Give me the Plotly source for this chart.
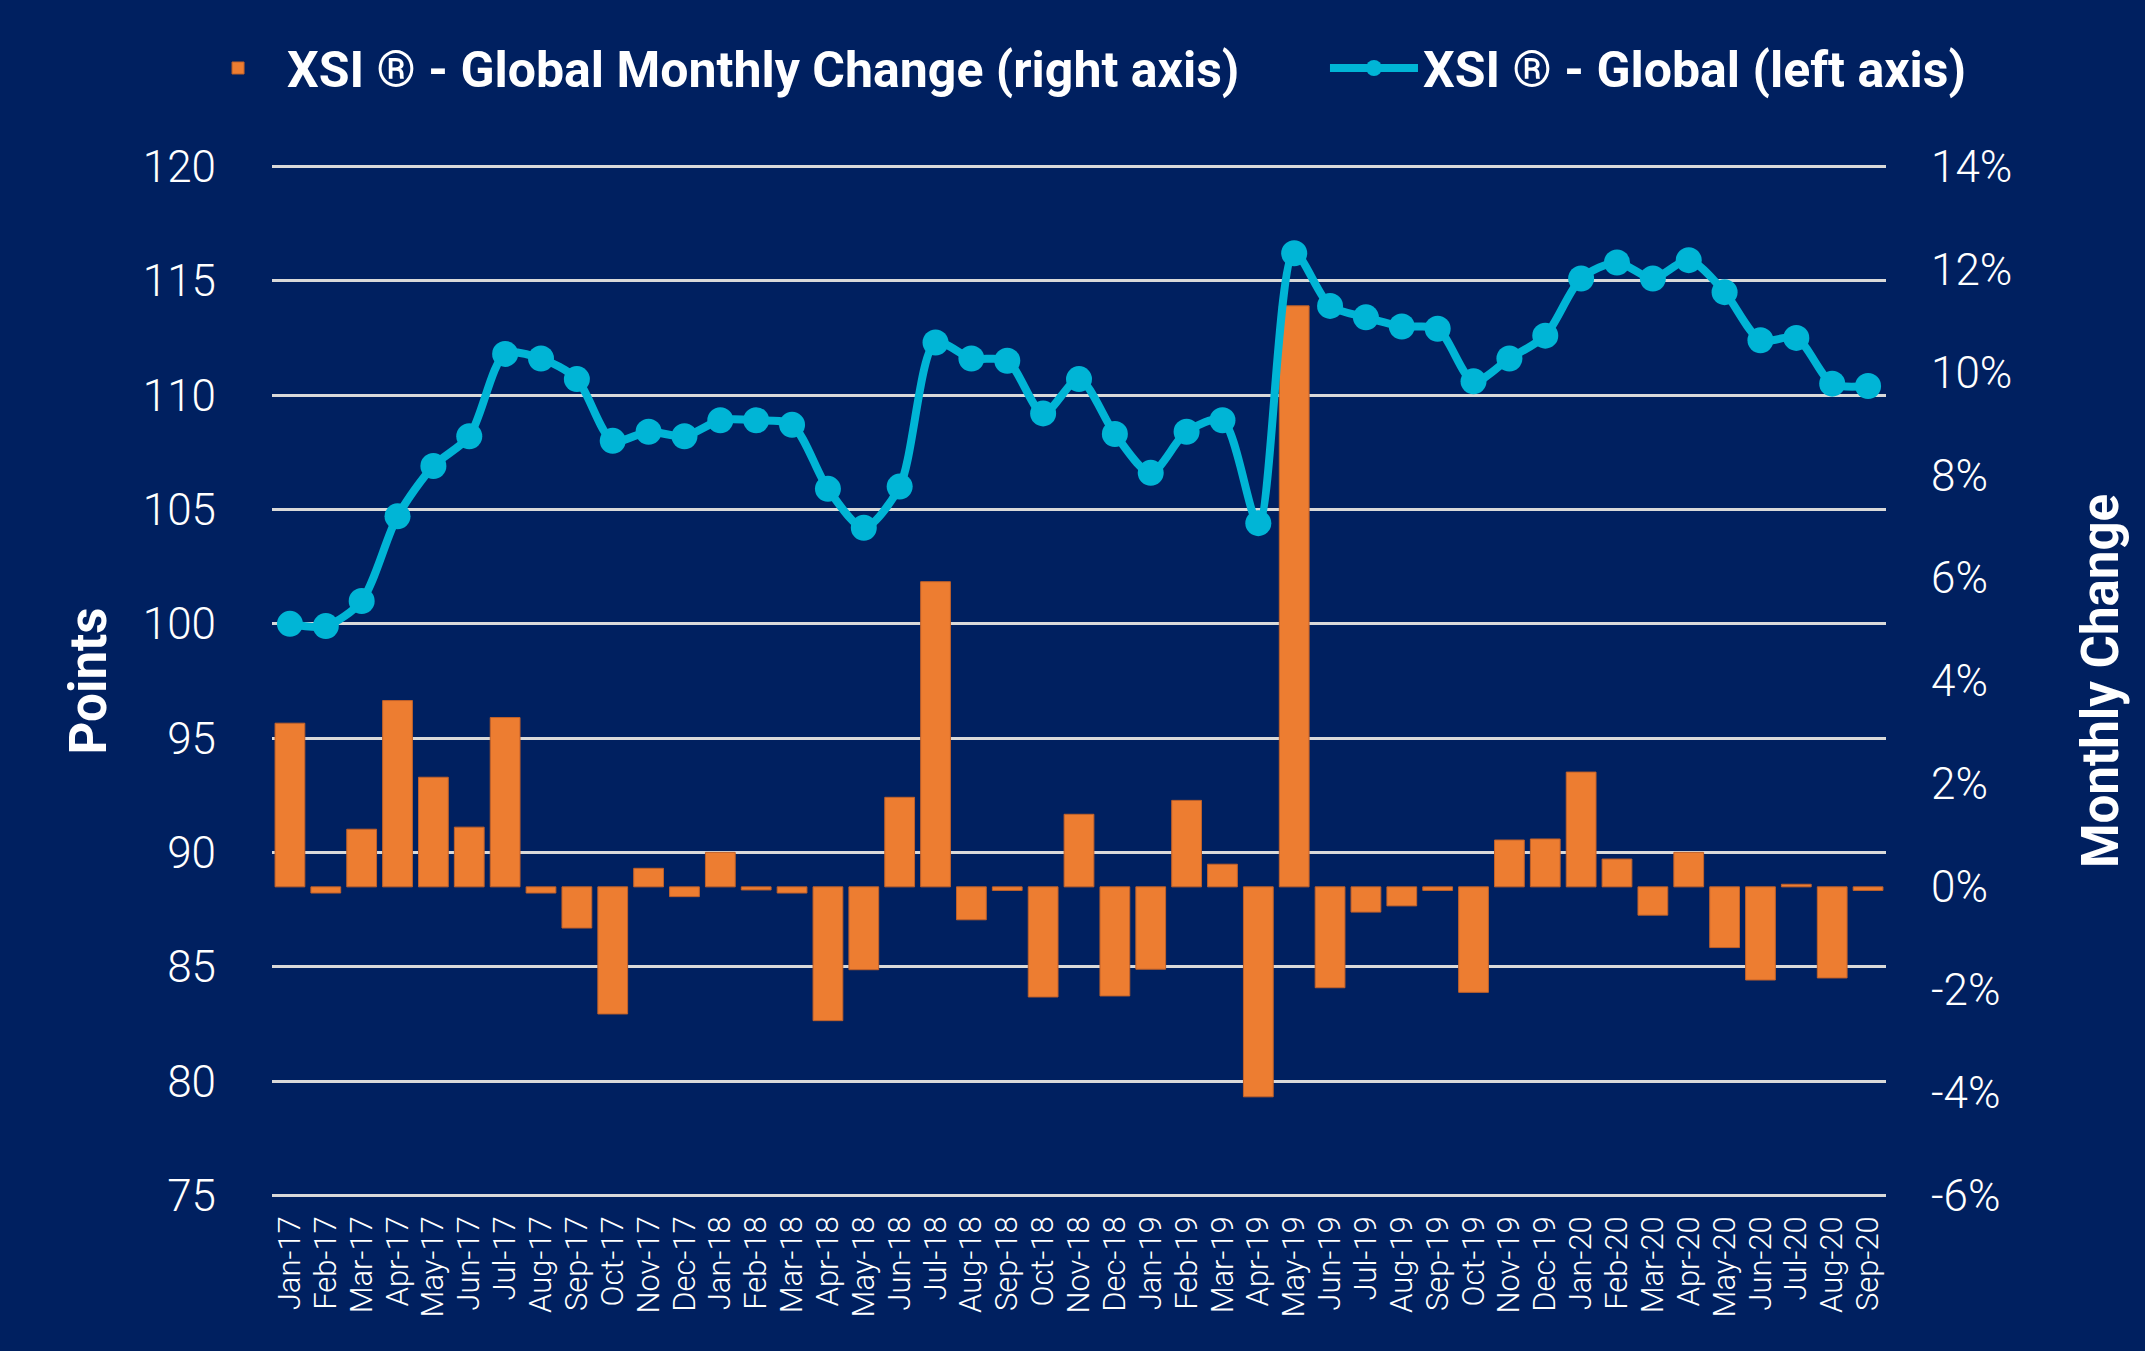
import plotly.graph_objects as go

months = ["Jan-17", "Feb-17", "Mar-17", "Apr-17", "May-17", "Jun-17", "Jul-17", "Aug-17", "Sep-17",
          "Oct-17", "Nov-17", "Dec-17", "Jan-18", "Feb-18", "Mar-18", "Apr-18", "May-18", "Jun-18",
          "Jul-18", "Aug-18", "Sep-18", "Oct-18", "Nov-18", "Dec-18", "Jan-19", "Feb-19", "Mar-19",
          "Apr-19", "May-19", "Jun-19", "Jul-19", "Aug-19", "Sep-19", "Oct-19", "Nov-19", "Dec-19",
          "Jan-20", "Feb-20", "Mar-20", "Apr-20", "May-20", "Jun-20", "Jul-20", "Aug-20", "Sep-20"]

xsi_global = [100.0, 99.9, 101.0, 104.7, 106.9, 108.2, 111.8, 111.6, 110.7,
              108.0, 108.4, 108.2, 108.9, 108.9, 108.7, 105.9, 104.2, 106.0,
              112.3, 111.6, 111.5, 109.2, 110.7, 108.3, 106.6, 108.4, 108.9,
              104.4, 116.2, 113.9, 113.4, 113.0, 112.9, 110.6, 111.6, 112.6,
              115.1, 115.8, 115.1, 115.9, 114.5, 112.4, 112.5, 110.5, 110.4]

monthly_change = [3.18, -0.12, 1.12, 3.62, 2.13, 1.16, 3.29, -0.12, -0.80,
                  -2.47, 0.36, -0.19, 0.67, -0.06, -0.12, -2.60, -1.61, 1.74,
                  5.93, -0.64, -0.07, -2.14, 1.41, -2.12, -1.60, 1.68, 0.44,
                  -4.08, 11.29, -1.96, -0.49, -0.37, -0.07, -2.05, 0.91, 0.93,
                  2.23, 0.54, -0.55, 0.67, -1.18, -1.81, 0.05, -1.77, -0.07]

left_ticks = [75, 80, 85, 90, 95, 100, 105, 110, 115, 120]
right_ticks = [-6, -4, -2, 0, 2, 4, 6, 8, 10, 12, 14]
right_tick_text = ["-6%", "-4%", "-2%", "0%", "2%", "4%", "6%", "8%", "10%", "12%", "14%"]

BG = "#002060"
ORANGE = "#ED7D31"
CYAN = "#00B5D6"
FONT = "Roboto"

# small padding so the 75 / 120 gridlines are drawn at the plot edges
pad_left = 0.06
pad_right = pad_left * 20 / 45

fig = go.Figure()
fig.add_trace(go.Bar(
    x=months, y=monthly_change, name="XSI \u00ae - Global Monthly Change (right axis)",
    marker=dict(color=ORANGE, line=dict(color="#C0612A", width=1)),
    yaxis="y", legend="legend",
))
fig.add_trace(go.Scatter(
    x=months, y=xsi_global, name="XSI \u00ae - Global (left axis)",
    mode="lines+markers",
    line=dict(color=CYAN, width=8, shape="spline", smoothing=0.8),
    marker=dict(color=CYAN, size=26),
    yaxis="y2", legend="legend2",
))

legend_font = dict(family=FONT, size=50, color="white", weight="bold")

fig.update_layout(
    width=2145, height=1351,
    paper_bgcolor=BG, plot_bgcolor=BG,
    margin=dict(l=272, r=259, t=165, b=154),
    font=dict(family=FONT, color="white"),
    bargap=0.17,
    showlegend=True,
    legend=dict(orientation="h", x=-0.0514, xanchor="left", y=1.094, yanchor="middle",
                font=legend_font, itemwidth=88, bgcolor="rgba(0,0,0,0)"),
    legend2=dict(orientation="h", x=0.6524, xanchor="left", y=1.094, yanchor="middle",
                 font=legend_font, itemwidth=88, bgcolor="rgba(0,0,0,0)"),
    xaxis=dict(
        type="category", range=[-0.5, len(months) - 0.5],
        tickmode="array", tickvals=months, ticktext=months,
        tickangle=-90, showgrid=False, zeroline=False, showline=False,
        tickfont=dict(family=FONT, size=31, color="white", weight=300),
        ticks="", ticklabelstandoff=12,
    ),
    yaxis=dict(
        side="right", range=[-6 - pad_right, 14 + pad_right],
        tickmode="array", tickvals=right_ticks, ticktext=right_tick_text,
        showgrid=False, zeroline=False, showline=False,
        tickfont=dict(family=FONT, size=44, color="white", weight=300),
        ticklabelstandoff=44,
        title=dict(text="Monthly Change", font=dict(family=FONT, size=51, color="white", weight="bold"),
                   standoff=70),
    ),
    yaxis2=dict(
        side="left", overlaying="y", range=[75 - pad_left, 120 + pad_left],
        tickmode="array", tickvals=left_ticks,
        showgrid=True, gridcolor="#D9D9D9", gridwidth=3, zeroline=False, showline=False,
        tickfont=dict(family=FONT, size=44, color="white", weight=300),
        ticklabelstandoff=55,
        title=dict(text="Points", font=dict(family=FONT, size=51, color="white", weight="bold"),
                   standoff=19),
    ),
)

fig.write_html(
    "out.html",
    config={"displayModeBar": False},
    post_script="document.body.style.margin='0';document.body.style.overflow='hidden';",
)
